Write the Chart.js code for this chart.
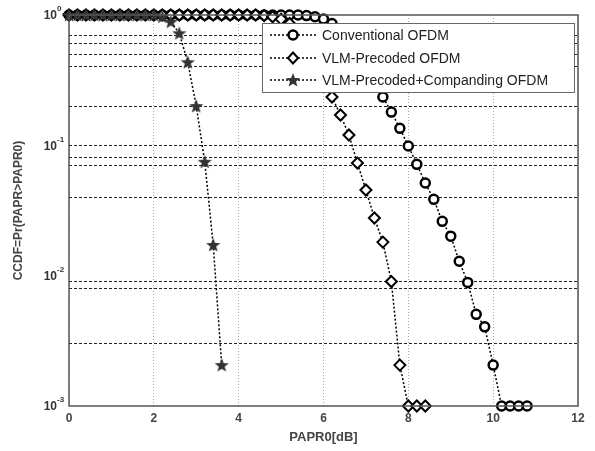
<!DOCTYPE html>
<html>
<head>
<meta charset="utf-8">
<script src="https://cdn.jsdelivr.net/npm/chart.js@4.4.1/dist/chart.umd.min.js"></script>
<style>
  html, body { margin: 0; padding: 0; background: #fff; }
  #wrap { width: 595px; height: 451px; position: relative; }
</style>
</head>
<body>
<div id="wrap"><canvas id="ccdfChart"></canvas></div>
<script>
// PAPR0 values in dB (0.2 dB steps as in the simulation)
const paprConv = [0, 0.2, 0.4, 0.6, 0.8, 1, 1.2, 1.4, 1.6, 1.8, 2, 2.2, 2.4, 2.6, 2.8, 3, 3.2, 3.4, 3.6, 3.8,
  4, 4.2, 4.4, 4.6, 4.8, 5, 5.2, 5.4, 5.6, 5.8, 6, 6.2, 6.4, 6.6, 6.8, 7, 7.2, 7.4, 7.6, 7.8,
  8, 8.2, 8.4, 8.6, 8.8, 9, 9.2, 9.4, 9.6, 9.8, 10, 10.2, 10.4, 10.6, 10.8];
const ccdfConv = [1, 1, 1, 1, 1, 1, 1, 1, 1, 1, 1, 1, 1, 1, 1, 1, 1, 1, 1, 1,
  1, 1, 1, 1, 1, 1, 1, 1, 0.99, 0.97, 0.93, 0.86, 0.77, 0.66, 0.54, 0.42, 0.32, 0.235, 0.18, 0.135,
  0.0988, 0.0715, 0.0514, 0.0385, 0.0261, 0.0201, 0.0129, 0.00888, 0.00505, 0.00405, 0.00206, 0.001, 0.001, 0.001, 0.001];

const paprVlm = [0, 0.2, 0.4, 0.6, 0.8, 1, 1.2, 1.4, 1.6, 1.8, 2, 2.2, 2.4, 2.6, 2.8, 3, 3.2, 3.4, 3.6, 3.8,
  4, 4.2, 4.4, 4.6, 4.8, 5, 5.2, 5.4, 5.6, 5.8, 6, 6.2, 6.4, 6.6, 6.8, 7, 7.2, 7.4, 7.6, 7.8,
  8, 8.2, 8.4];
const ccdfVlm = [1, 1, 1, 1, 1, 1, 1, 1, 1, 1, 1, 1, 1, 1, 1, 1, 1, 1, 1, 1,
  1, 1, 1, 0.99, 0.97, 0.93, 0.86, 0.76, 0.64, 0.5, 0.36, 0.235, 0.171, 0.12, 0.0731, 0.0454, 0.0277, 0.0181, 0.00901, 0.00206,
  0.001, 0.001, 0.001];

const paprComp = [0, 0.2, 0.4, 0.6, 0.8, 1, 1.2, 1.4, 1.6, 1.8, 2, 2.2, 2.4, 2.6, 2.8, 3, 3.2, 3.4, 3.6];
const ccdfComp = [1, 1, 1, 1, 1, 1, 1, 1, 1, 1, 1, 0.97, 0.888, 0.724, 0.434, 0.2, 0.0748, 0.0172, 0.00206];

const seriesNames = ["Conventional OFDM", "VLM-Precoded OFDM", "VLM-Precoded+Companding OFDM"];

// x ticks and the horizontal grid lines that show in the picture
const xTicks = [0, 2, 4, 6, 8, 10, 12];
const yGridVals = [0.001, 0.003, 0.008, 0.009, 0.01, 0.04, 0.07, 0.08, 0.1, 0.2, 0.4, 0.5, 0.6, 0.7, 1];
const yLabelVals = [1, 0.1, 0.01, 0.001];
const yLabelExp = ["0", "-1", "-2", "-3"];

const FONT = "'Liberation Sans', Arial, sans-serif";

function makeStar(size, color) {
  const c = document.createElement("canvas");
  c.width = size; c.height = size;
  const g = c.getContext("2d");
  const cx = size / 2, cy = size / 2 + 0.5, R = size / 2 - 0.5, r = R * 0.42;
  g.beginPath();
  for (let i = 0; i < 10; i++) {
    const rad = i % 2 === 0 ? R : r;
    const a = -Math.PI / 2 + i * Math.PI / 5;
    g.lineTo(cx + rad * Math.cos(a), cy + rad * Math.sin(a));
  }
  g.closePath();
  g.fillStyle = color;
  g.fill();
  return c;
}
const starImg = makeStar(16, "#333");

function toPoints(xs, ys) {
  return xs.map((x, i) => ({ x: x, y: ys[i] }));
}

// draws box, y tick labels with exponents, and the legend
const extrasPlugin = {
  id: "extras",
  afterDatasetsDraw(chart) {
    const ctx = chart.ctx;
    const a = chart.chartArea;
    const yS = chart.scales.y;
    ctx.save();
    // axes box
    ctx.strokeStyle = "#555";
    ctx.lineWidth = 1.5;
    ctx.strokeRect(a.left, a.top, a.right - a.left, a.bottom - a.top);

    // y labels 10^n
    ctx.fillStyle = "#333";
    yLabelVals.forEach((v, i) => {
      const py = yS.getPixelForValue(v);
      ctx.font = "bold 12px " + FONT;
      ctx.textAlign = "right";
      ctx.textBaseline = "middle";
      ctx.fillText("10", 57, py + 1);
      ctx.font = "bold 8px " + FONT;
      ctx.textAlign = "left";
      ctx.fillText(yLabelExp[i], 57, py - 6);
    });

    // legend
    const lx = 262, ly = 23, lw = 312, lh = 69;
    ctx.fillStyle = "#fff";
    ctx.fillRect(lx, ly, lw, lh);
    ctx.strokeStyle = "#666";
    ctx.lineWidth = 1;
    ctx.strokeRect(lx + 0.5, ly + 0.5, lw, lh);
    const rows = [35, 58, 80];
    rows.forEach((ry, i) => {
      ctx.strokeStyle = "#000";
      ctx.lineWidth = 1.5;
      ctx.setLineDash([2, 2]);
      ctx.beginPath();
      ctx.moveTo(270, ry);
      ctx.lineTo(318, ry);
      ctx.stroke();
      ctx.setLineDash([]);
      const mx = 293;
      if (i === 0) {
        ctx.beginPath();
        ctx.arc(mx, ry, 4.5, 0, Math.PI * 2);
        ctx.fillStyle = "#fff";
        ctx.fill();
        ctx.lineWidth = 2.5;
        ctx.stroke();
      } else if (i === 1) {
        ctx.beginPath();
        ctx.moveTo(mx, ry - 5.5);
        ctx.lineTo(mx + 5, ry);
        ctx.lineTo(mx, ry + 5.5);
        ctx.lineTo(mx - 5, ry);
        ctx.closePath();
        ctx.fillStyle = "#fff";
        ctx.fill();
        ctx.lineWidth = 2;
        ctx.stroke();
      } else {
        ctx.drawImage(starImg, mx - 8, ry - 8);
      }
      ctx.fillStyle = "#222";
      ctx.font = "14px " + FONT;
      ctx.textAlign = "left";
      ctx.textBaseline = "middle";
      ctx.fillText(seriesNames[i], 322, ry + 1);
    });
    ctx.restore();
  }
};

function lineDataset(label, pts, style, radius, bw, order) {
  return {
    label: label,
    data: pts,
    order: order, // later MATLAB plots sit on top
    borderColor: "#000",
    borderWidth: 1.5,
    borderDash: [2, 2],
    pointStyle: style,
    pointRadius: radius,
    pointBorderWidth: bw,
    pointBorderColor: "#000",
    pointBackgroundColor: "#fff",
    fill: false,
    tension: 0,
    clip: false
  };
}

function mainEvent() {
  const target = document.querySelector("#ccdfChart");
  const datasets = [
    lineDataset(seriesNames[0], toPoints(paprConv, ccdfConv), "circle", 4.5, 2.5, 2),
    lineDataset(seriesNames[1], toPoints(paprVlm, ccdfVlm), "rectRot", 5.5, 2, 1),
    lineDataset(seriesNames[2], toPoints(paprComp, ccdfComp), starImg, 8, 0, 0)
  ];

  new Chart(target, {
    type: "line",
    data: { datasets: datasets },
    plugins: [extrasPlugin],
    options: {
      responsive: true,
      maintainAspectRatio: false,
      animation: false,
      layout: { padding: { top: 15, right: 17, left: 0, bottom: 0 } },
      plugins: { legend: { display: false }, tooltip: { enabled: false } },
      scales: {
        x: {
          type: "linear",
          min: 0,
          max: 12,
          afterBuildTicks: (axis) => { axis.ticks = xTicks.map((v) => ({ value: v })); },
          afterFit: (axis) => { axis.height = 45; },
          grid: { color: "#aaa", lineWidth: 1, drawTicks: false },
          border: { display: false, dash: [1, 2] },
          ticks: { color: "#444", padding: 5, font: { family: FONT, size: 12, weight: "bold" } },
          title: {
            display: true,
            text: "PAPR0[dB]",
            color: "#444",
            font: { family: FONT, size: 13, weight: "bold" },
            padding: { top: 0, bottom: 6 }
          }
        },
        y: {
          type: "logarithmic",
          min: 0.001,
          max: 1,
          afterBuildTicks: (axis) => { axis.ticks = yGridVals.map((v) => ({ value: v })); },
          afterFit: (axis) => { axis.width = 69; },
          grid: {
            drawTicks: false,
            lineWidth: 1,
            color: (c) => {
              const v = c.tick ? c.tick.value : 0;
              return (v === 1 || v === 0.01 || v === 0.001) ? "rgba(0,0,0,0)" : "#222";
            }
          },
          border: { display: false, dash: [3, 2] },
          ticks: { callback: () => "", padding: 0 },
          title: {
            display: true,
            text: "CCDF=Pr(PAPR>PAPR0)",
            color: "#444",
            font: { family: FONT, size: 12, weight: "bold" },
            padding: { top: 11, bottom: 0 }
          }
        }
      }
    }
  });
}

document.addEventListener("DOMContentLoaded", () => mainEvent());
</script>
</body>
</html>
